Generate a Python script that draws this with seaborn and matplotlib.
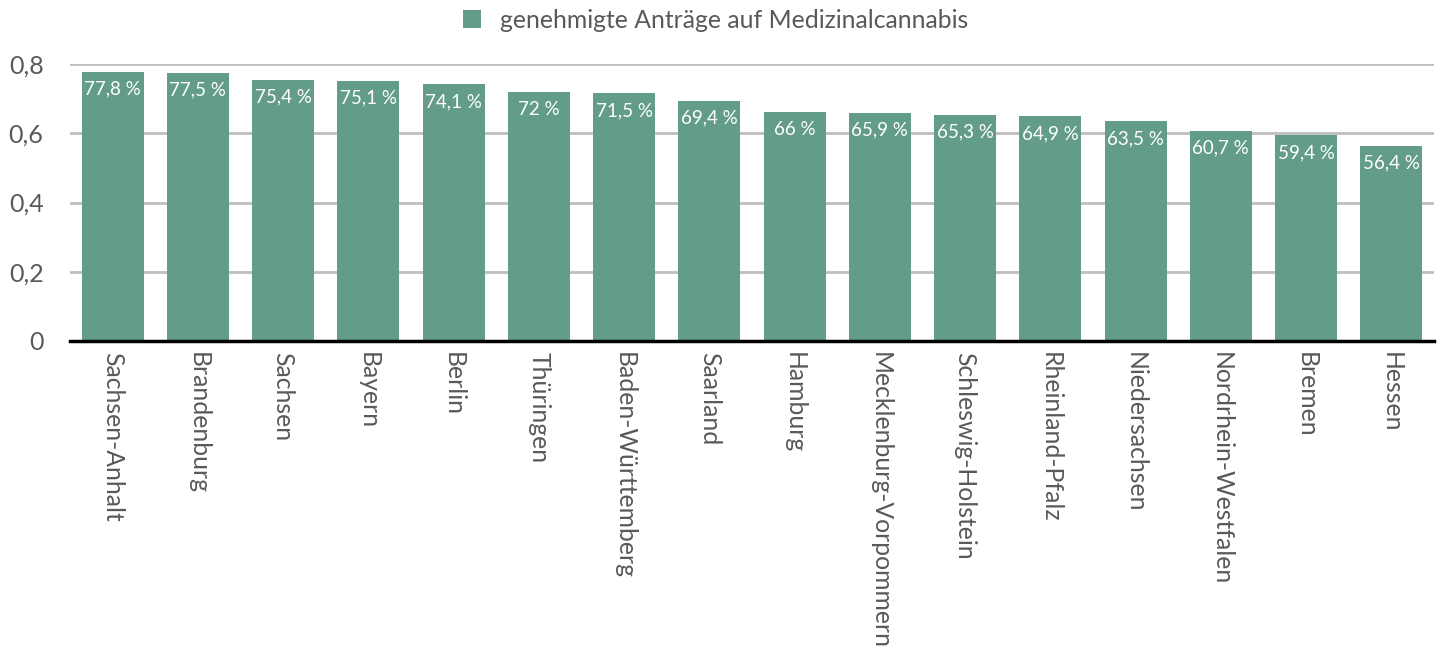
import matplotlib
matplotlib.use('Agg')
import matplotlib.pyplot as plt
import pandas as pd
import seaborn as sns

laender = ['Sachsen-Anhalt', 'Brandenburg', 'Sachsen', 'Bayern', 'Berlin', 'Thüringen',
           'Baden-Württemberg', 'Saarland', 'Hamburg', 'Mecklenburg-Vorpommern',
           'Schleswig-Holstein', 'Rheinland-Pfalz', 'Niedersachsen', 'Nordrhein-Westfalen',
           'Bremen', 'Hessen']
anteil = [0.778, 0.775, 0.754, 0.751, 0.741, 0.72, 0.715, 0.694, 0.66, 0.659,
          0.653, 0.649, 0.635, 0.607, 0.594, 0.564]
bar_labels = ['77,8 %', '77,5 %', '75,4 %', '75,1 %', '74,1 %', '72 %', '71,5 %', '69,4 %',
              '66 %', '65,9 %', '65,3 %', '64,9 %', '63,5 %', '60,7 %', '59,4 %', '56,4 %']
yticks = [0, 0.2, 0.4, 0.6, 0.8]
ytick_labels = ['0', '0,2', '0,4', '0,6', '0,8']
legend_label = 'genehmigte Anträge auf Medizinalcannabis'

sns.set_style('white')
plt.rcParams['font.family'] = ['Lato', 'DejaVu Sans']

color = '#639C8A'
text_grey = '#595959'

df = pd.DataFrame({'land': laender, 'anteil': anteil})

fig = plt.figure(figsize=(14.43, 6.48), dpi=100)
ax = fig.add_axes([70 / 1443, 1 - 341 / 648, 1364 / 1443, 277 / 648])
ax.set_axisbelow(True)

sns.barplot(data=df, x='land', y='anteil', color=color, saturation=1, width=0.73,
            ax=ax, label=legend_label, linewidth=0)
for p in ax.patches:
    p.set_zorder(3)

ax.set_ylim(0, 0.8)
ax.set_xlim(-0.5, len(laender) - 0.5)
ax.set_yticks(yticks)
ax.set_yticklabels(ytick_labels, fontsize=18, color=text_grey)
ax.set_xticks(range(len(laender)))
ax.set_xticklabels(laender, rotation=270, fontsize=17.8, color=text_grey, va='top', ha='center')
ax.tick_params(axis='both', length=0)
ax.tick_params(axis='y', pad=19)
ax.tick_params(axis='x', pad=8)
ax.set_xlabel('')
ax.set_ylabel('')

ax.yaxis.grid(True, color='#BFBFBF', lw=2)
ax.xaxis.grid(False)

for s in ['top', 'right', 'left']:
    ax.spines[s].set_visible(False)
ax.spines['bottom'].set_color('black')
ax.spines['bottom'].set_linewidth(2.5)
ax.spines['bottom'].set_zorder(4)

for i, (v, lab) in enumerate(zip(anteil, bar_labels)):
    ax.text(i, v - 0.05, lab, ha='center', va='center', color='white', fontsize=13.5, zorder=5)

ax.legend(loc='lower center', bbox_to_anchor=(0.473, 1.035), frameon=False, fontsize=17.8,
          labelcolor=text_grey, handlelength=0.75, handleheight=0.75, handletextpad=0.75)

fig.savefig('out.png', dpi=100)
